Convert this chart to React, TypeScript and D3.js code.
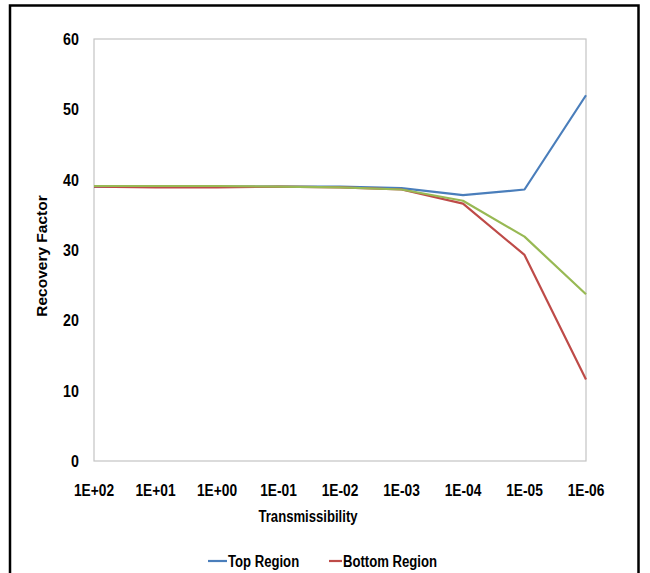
import React from "react";
import * as d3 from "d3";

const categories = ["1E+02", "1E+01", "1E+00", "1E-01", "1E-02", "1E-03", "1E-04", "1E-05", "1E-06"];
const topRegion = [39.0, 39.0, 39.0, 39.0, 39.0, 38.8, 37.8, 38.6, 52.0];
const bottomRegion = [39.0, 38.9, 38.9, 39.0, 38.9, 38.6, 36.6, 29.3, 11.6];
const thirdSeries = [39.1, 39.1, 39.1, 39.0, 38.9, 38.6, 37.0, 31.9, 23.7];
const yTicks = [0, 10, 20, 30, 40, 50, 60];

const series = [
  { name: "Top Region", values: topRegion, color: "#4a7ebb" },
  { name: "Bottom Region", values: bottomRegion, color: "#be4b48" },
  { name: "Series 3", values: thirdSeries, color: "#98b954" },
];

const FONT = "'Liberation Sans', Arial, sans-serif";

function T({ x, y, children, anchor = "start", size = 16, sx = 0.84 }: any) {
  return (
    <text
      transform={`translate(${x},${y}) scale(${sx},1)`}
      dy="0.35em"
      textAnchor={anchor}
      fontFamily={FONT}
      fontWeight="bold"
      fontSize={size}
      fill="#000"
    >
      {children}
    </text>
  );
}

export default function App() {
  const W = 650, H = 573;
  const left = 94, right = 586, top = 39, bottom = 461;
  const x = d3.scalePoint<string>().domain(categories).range([left, right]);
  const y = d3.scaleLinear().domain([0, 60]).range([bottom, top]);
  const line = d3.line<number>().x((_, i) => x(categories[i]) as number).y((d) => y(d));

  return (
    <svg width={W} height={H} style={{ position: "absolute", left: 0, top: 0 }}>
      <rect x={0} y={0} width={W} height={H} fill="#fff" />
      <rect x={10} y={5.5} width={628.5} height={H + 10} fill="none" stroke="#000" strokeWidth={2.5} />
      <rect x={left} y={top} width={right - left} height={bottom - top} fill="none" stroke="#c4c4c4" strokeWidth={1.2} />
      {yTicks.map((t) => (
        <T key={t} x={79} y={y(t)} anchor="end" size={17}>
          {t}
        </T>
      ))}
      {categories.map((c) => (
        <T key={c} x={x(c)} y={490} anchor="middle" size={16} sx={0.86}>
          {c}
        </T>
      ))}
      <T x={(left + right) / 2 - 32} y={516} anchor="middle" size={16} sx={0.82}>
        Transmissibility
      </T>
      <text
        transform={`translate(42,${(top + bottom) / 2 + 6}) rotate(-90)`}
        textAnchor="middle"
        dy="0.35em"
        fontFamily={FONT}
        fontWeight="bold"
        fontSize={15.5}
        fill="#000"
      >
        Recovery Factor
      </text>
      {series.map((s) => (
        <path key={s.name} d={line(s.values) || ""} fill="none" stroke={s.color} strokeWidth={2.2} strokeLinejoin="round" />
      ))}
      {[
        { s: series[0], lx: 208, tx: 228 },
        { s: series[1], lx: 329, tx: 343 },
      ].map(({ s, lx, tx }) => (
        <g key={s.name}>
          <line x1={lx} x2={tx - 1} y1={561} y2={561} stroke={s.color} strokeWidth={2.2} />
          <T x={tx} y={561} size={16} sx={0.82}>
            {s.name}
          </T>
        </g>
      ))}
    </svg>
  );
}
